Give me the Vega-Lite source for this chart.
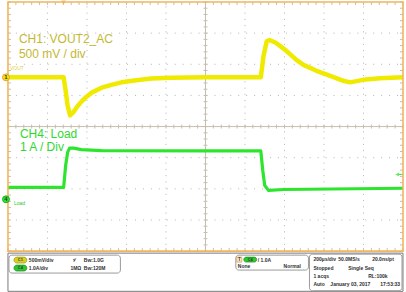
{
 "$schema": "https://vega.github.io/schema/vega-lite/v6.json",
 "width": 406, "height": 292,
 "autosize": {"type": "fit", "contains": "padding"},
 "padding": 0,
 "background": "white",
 "config": {"view": {"stroke": null}, "axis": {"disable": true}, "text": {"font": "Liberation Sans"}},
 "datasets": {
  "vgrid": [{"div":1},{"div":2},{"div":3},{"div":4},{"div":6},{"div":7},{"div":8},{"div":9}],
  "hgrid": [{"v":-3},{"v":-2},{"v":-1},{"v":1},{"v":2},{"v":3}],
  "center": [{"div":5,"v":0}],
  "xs": [{"p":0},{"p":0.2},{"p":0.4},{"p":0.6},{"p":0.8},{"p":1},{"p":1.2},{"p":1.4},{"p":1.6},{"p":1.8},{"p":2},{"p":2.2},{"p":2.4},{"p":2.6},{"p":2.8},{"p":3},{"p":3.2},{"p":3.4},{"p":3.6},{"p":3.8},{"p":4},{"p":4.2},{"p":4.4},{"p":4.6},{"p":4.8},{"p":5},{"p":5.2},{"p":5.4},{"p":5.6},{"p":5.8},{"p":6},{"p":6.2},{"p":6.4},{"p":6.6},{"p":6.8},{"p":7},{"p":7.2},{"p":7.4},{"p":7.6},{"p":7.8},{"p":8},{"p":8.2},{"p":8.4},{"p":8.6},{"p":8.8},{"p":9},{"p":9.2},{"p":9.4},{"p":9.6},{"p":9.8},{"p":10}],
  "ys": [{"p":-4},{"p":-3.8},{"p":-3.6},{"p":-3.4},{"p":-3.2},{"p":-3},{"p":-2.8},{"p":-2.6},{"p":-2.4},{"p":-2.2},{"p":-2},{"p":-1.8},{"p":-1.6},{"p":-1.4},{"p":-1.2},{"p":-1},{"p":-0.8},{"p":-0.6},{"p":-0.4},{"p":-0.2},{"p":0},{"p":0.2},{"p":0.4},{"p":0.6},{"p":0.8},{"p":1},{"p":1.2},{"p":1.4},{"p":1.6},{"p":1.8},{"p":2},{"p":2.2},{"p":2.4},{"p":2.6},{"p":2.8},{"p":3},{"p":3.2},{"p":3.4},{"p":3.6},{"p":3.8},{"p":4}],
  "ch1": [{"div":0,"v":1.58},{"div":1.41,"v":1.58},{"div":1.46,"v":1.15},{"div":1.51,"v":0.67},{"div":1.574,"v":0.36},{"div":1.66,"v":0.47},{"div":1.76,"v":0.65},{"div":1.86,"v":0.8},{"div":1.99,"v":0.96},{"div":2.12,"v":1.09},{"div":2.37,"v":1.25},{"div":2.62,"v":1.34},{"div":2.87,"v":1.42},{"div":3.25,"v":1.49},{"div":3.63,"v":1.54},{"div":4.13,"v":1.57},{"div":5.01,"v":1.58},{"div":6.4,"v":1.58},{"div":6.47,"v":2.27},{"div":6.55,"v":2.74},{"div":6.62,"v":2.78},{"div":6.78,"v":2.69},{"div":7.05,"v":2.43},{"div":7.3,"v":2.14},{"div":7.48,"v":1.98},{"div":7.81,"v":1.79},{"div":8.16,"v":1.63},{"div":8.49,"v":1.47},{"div":8.66,"v":1.42},{"div":8.99,"v":1.5},{"div":9.42,"v":1.55},{"div":10,"v":1.58}],
  "ch4": [{"div":0,"v":-1.95},{"div":1.41,"v":-1.95},{"div":1.46,"v":-1.25},{"div":1.51,"v":-0.83},{"div":1.56,"v":-0.69},{"div":1.66,"v":-0.69},{"div":1.86,"v":-0.74},{"div":2.37,"v":-0.77},{"div":5.01,"v":-0.78},{"div":6.4,"v":-0.78},{"div":6.45,"v":-1.41},{"div":6.5,"v":-1.89},{"div":6.6,"v":-2.05},{"div":6.98,"v":-2.02},{"div":10,"v":-1.98}],
  "labels": [{"t":"CH1: VOUT2_AC","div":0.277,"v":2.688,"ch":"1"},{"t":"500 mV / div","div":0.277,"v":2.208,"ch":"1"},{"t":"CH4: Load","div":0.302,"v":-0.352,"ch":"4"},{"t":"1 A / Div","div":0.302,"v":-0.8,"ch":"4"}],
  "markers": [{"ch":"1","t":"1","div":-0.05,"v":1.58,"name":"VOUT","ldiv":0.05,"lv":1.89},{"ch":"4","t":"4","div":-0.05,"v":-2.336,"name":"Load","ldiv":0.151,"lv":-2.464}],
  "trig": [{"div":1.41,"v":3.985,"lv":-1.536}],
  "boxes": [{"b":"outer","x1":0.0,"x2":10.0,"y1":-4.064,"y2":-5.29},{"b":"inner","x1":0.025,"x2":2.846,"y1":-4.128,"y2":-4.704},{"b":"inner","x1":5.768,"x2":7.607,"y1":-4.128,"y2":-4.608},{"b":"inner","x1":7.632,"x2":9.975,"y1":-4.096,"y2":-5.27}],
  "pills": [{"ch":"1","t":"C1","x1":0.151,"x2":0.479,"xc":0.315,"y1":-4.192,"y2":-4.384,"yc":-4.288},{"ch":"4","t":"C4","x1":0.151,"x2":0.479,"xc":0.315,"y1":-4.448,"y2":-4.64,"yc":-4.544},{"ch":"4","t":"C4","x1":5.97,"x2":6.297,"xc":6.134,"y1":-4.192,"y2":-4.352,"yc":-4.272}],
  "tbox": [{"t":"T","x1":5.793,"x2":5.919,"xc":5.856,"y1":-4.192,"y2":-4.352,"yc":-4.272}],
  "panelText": [{"t":"500mV/div","div":0.529,"v":-4.288},{"t":"⅟","div":1.65,"v":-4.288},{"t":"Bw:1.0G","div":1.92,"v":-4.288},{"t":"1.0A/div","div":0.529,"v":-4.544},{"t":"1MΩ","div":1.58,"v":-4.544},{"t":"Bw:120M","div":1.92,"v":-4.544},{"t":"/ 1.0A","div":6.322,"v":-4.272},{"t":"None","div":5.819,"v":-4.48},{"t":"Normal","div":6.977,"v":-4.48},{"t":"200µs/div","div":7.733,"v":-4.256},{"t":"50.0MS/s","div":8.363,"v":-4.256},{"t":"20.0ns/pt","div":9.219,"v":-4.256},{"t":"Stopped","div":7.733,"v":-4.544},{"t":"Single Seq","div":8.615,"v":-4.544},{"t":"1 acqs","div":7.733,"v":-4.8},{"t":"RL:100k","div":9.118,"v":-4.8},{"t":"Auto","div":7.733,"v":-5.056},{"t":"January 03, 2017","div":8.161,"v":-5.056},{"t":"17:53:33","div":9.421,"v":-5.056}]
 },
 "layer": [
  {"data": {"name": "vgrid"}, "mark": {"type": "rule", "color": "#b4b4b4", "strokeWidth": 1, "strokeDash": [1, 5.25]},
   "encoding": {"x": {"field": "div", "type": "quantitative", "scale": {"domain": [-0.151, 10.076], "nice": false, "zero": false}},
                "y": {"datum": -4, "type": "quantitative", "scale": {"domain": [-5.312, 4.032], "nice": false, "zero": false}}, "y2": {"datum": 4}}},
  {"data": {"name": "hgrid"}, "mark": {"type": "rule", "color": "#b4b4b4", "strokeWidth": 1, "strokeDash": [1, 6.94]},
   "encoding": {"y": {"field": "v", "type": "quantitative"}, "x": {"datum": 0, "type": "quantitative"}, "x2": {"datum": 10}}},
  {"data": {"name": "center"}, "mark": {"type": "rule", "color": "#c6bdae", "strokeWidth": 1},
   "encoding": {"x": {"field": "div", "type": "quantitative"}, "y": {"datum": -4, "type": "quantitative"}, "y2": {"datum": 4}}},
  {"data": {"name": "center"}, "mark": {"type": "rule", "color": "#c6bdae", "strokeWidth": 1},
   "encoding": {"y": {"field": "v", "type": "quantitative"}, "x": {"datum": 0, "type": "quantitative"}, "x2": {"datum": 10}}},
  {"data": {"name": "xs"}, "mark": {"type": "rule", "color": "#c6bdae", "strokeWidth": 1},
   "encoding": {"x": {"field": "p", "type": "quantitative"}, "y": {"datum": -0.064, "type": "quantitative"}, "y2": {"datum": 0.064}}},
  {"data": {"name": "ys"}, "mark": {"type": "rule", "color": "#c6bdae", "strokeWidth": 1},
   "encoding": {"y": {"field": "p", "type": "quantitative"}, "x": {"datum": 4.95, "type": "quantitative"}, "x2": {"datum": 5.05}}},
  {"data": {"name": "xs"}, "mark": {"type": "rule", "color": "#c6bdae", "strokeWidth": 1},
   "encoding": {"x": {"field": "p", "type": "quantitative"}, "y": {"datum": 3.904, "type": "quantitative"}, "y2": {"datum": 4}}},
  {"data": {"name": "xs"}, "mark": {"type": "rule", "color": "#c6bdae", "strokeWidth": 1},
   "encoding": {"x": {"field": "p", "type": "quantitative"}, "y": {"datum": -4, "type": "quantitative"}, "y2": {"datum": -3.904}}},
  {"data": {"name": "ys"}, "mark": {"type": "rule", "color": "#c6bdae", "strokeWidth": 1},
   "encoding": {"y": {"field": "p", "type": "quantitative"}, "x": {"datum": 0, "type": "quantitative"}, "x2": {"datum": 0.076}}},
  {"data": {"name": "ys"}, "mark": {"type": "rule", "color": "#c6bdae", "strokeWidth": 1},
   "encoding": {"y": {"field": "p", "type": "quantitative"}, "x": {"datum": 9.924, "type": "quantitative"}, "x2": {"datum": 10}}},
  {"data": {"name": "ch1"}, "mark": {"type": "line", "color": "#f0ea00", "strokeWidth": 4.5, "strokeJoin": "round"},
   "encoding": {"x": {"field": "div", "type": "quantitative"}, "y": {"field": "v", "type": "quantitative"}}},
  {"data": {"name": "ch4"}, "mark": {"type": "line", "color": "#2ee52e", "strokeWidth": 3.2, "strokeJoin": "round"},
   "encoding": {"x": {"field": "div", "type": "quantitative"}, "y": {"field": "v", "type": "quantitative"}}},
  {"data": {"name": "labels"}, "transform": [{"filter": "datum.ch == '1'"}], "mark": {"type": "text", "align": "left", "baseline": "alphabetic", "fontSize": 12, "color": "#c4b832"},
   "encoding": {"x": {"field": "div", "type": "quantitative"}, "y": {"field": "v", "type": "quantitative"}, "text": {"field": "t"}}},
  {"data": {"name": "labels"}, "transform": [{"filter": "datum.ch == '4'"}], "mark": {"type": "text", "align": "left", "baseline": "alphabetic", "fontSize": 12, "color": "#30d830"},
   "encoding": {"x": {"field": "div", "type": "quantitative"}, "y": {"field": "v", "type": "quantitative"}, "text": {"field": "t"}}},
  {"data": {"name": "trig"}, "mark": {"type": "point", "shape": "triangle-down", "filled": true, "size": 22, "color": "#f0a030"},
   "encoding": {"x": {"field": "div", "type": "quantitative"}, "y": {"field": "v", "type": "quantitative"}}},
  {"data": {"name": "trig"}, "mark": {"type": "point", "shape": "triangle-left", "filled": true, "size": 16, "color": "#2ee52e"},
   "encoding": {"x": {"datum": 9.85, "type": "quantitative"}, "y": {"field": "lv", "type": "quantitative"}}},
  {"data": {"name": "trig"}, "mark": {"type": "rule", "color": "#2ee52e", "strokeWidth": 1},
   "encoding": {"x": {"datum": 9.88, "type": "quantitative"}, "x2": {"datum": 10}, "y": {"field": "lv", "type": "quantitative"}}},
  {"data": {"name": "center"}, "mark": {"type": "rect", "fillOpacity": 0, "stroke": "#f2b55e", "strokeWidth": 1.6},
   "encoding": {"x": {"datum": 0, "type": "quantitative"}, "x2": {"datum": 10}, "y": {"datum": -4, "type": "quantitative"}, "y2": {"datum": 4}}},
  {"data": {"name": "markers"}, "transform": [{"filter": "datum.ch == '1'"}], "mark": {"type": "point", "filled": true, "size": 48, "fill": "#f2e600", "stroke": "#f0a030", "strokeWidth": 1, "opacity": 1},
   "encoding": {"x": {"field": "div", "type": "quantitative"}, "y": {"field": "v", "type": "quantitative"}}},
  {"data": {"name": "markers"}, "transform": [{"filter": "datum.ch == '4'"}], "mark": {"type": "point", "filled": true, "size": 48, "fill": "#2ee52e", "stroke": "#20b020", "strokeWidth": 1, "opacity": 1},
   "encoding": {"x": {"field": "div", "type": "quantitative"}, "y": {"field": "v", "type": "quantitative"}}},
  {"data": {"name": "markers"}, "mark": {"type": "text", "fontSize": 6, "fontWeight": "bold", "color": "#333333", "align": "center", "baseline": "middle"},
   "encoding": {"x": {"field": "div", "type": "quantitative"}, "y": {"field": "v", "type": "quantitative"}, "text": {"field": "t"}}},
  {"data": {"name": "markers"}, "transform": [{"filter": "datum.ch == '1'"}], "mark": {"type": "text", "fontSize": 5, "color": "#e0d040", "align": "left", "baseline": "middle"},
   "encoding": {"x": {"field": "ldiv", "type": "quantitative"}, "y": {"field": "lv", "type": "quantitative"}, "text": {"field": "name"}}},
  {"data": {"name": "markers"}, "transform": [{"filter": "datum.ch == '4'"}], "mark": {"type": "text", "fontSize": 5, "color": "#30c830", "align": "left", "baseline": "middle"},
   "encoding": {"x": {"field": "ldiv", "type": "quantitative"}, "y": {"field": "lv", "type": "quantitative"}, "text": {"field": "name"}}},
  {"data": {"name": "boxes"}, "transform": [{"filter": "datum.b == 'outer'"}], "mark": {"type": "rect", "fill": "white", "stroke": "#7a7a7a", "strokeWidth": 1},
   "encoding": {"x": {"field": "x1", "type": "quantitative"}, "x2": {"field": "x2"}, "y": {"field": "y1", "type": "quantitative"}, "y2": {"field": "y2"}}},
  {"data": {"name": "boxes"}, "transform": [{"filter": "datum.b == 'inner'"}], "mark": {"type": "rect", "fill": "white", "stroke": "#9a9a9a", "strokeWidth": 1, "cornerRadius": 3},
   "encoding": {"x": {"field": "x1", "type": "quantitative"}, "x2": {"field": "x2"}, "y": {"field": "y1", "type": "quantitative"}, "y2": {"field": "y2"}}},
  {"data": {"name": "pills"}, "transform": [{"filter": "datum.ch == '1'"}], "mark": {"type": "rect", "fill": "#d6d020", "stroke": "#8a8a10", "strokeWidth": 0.6, "cornerRadius": 3},
   "encoding": {"x": {"field": "x1", "type": "quantitative"}, "x2": {"field": "x2"}, "y": {"field": "y1", "type": "quantitative"}, "y2": {"field": "y2"}}},
  {"data": {"name": "pills"}, "transform": [{"filter": "datum.ch == '4'"}], "mark": {"type": "rect", "fill": "#2cc82c", "stroke": "#127a12", "strokeWidth": 0.6, "cornerRadius": 3},
   "encoding": {"x": {"field": "x1", "type": "quantitative"}, "x2": {"field": "x2"}, "y": {"field": "y1", "type": "quantitative"}, "y2": {"field": "y2"}}},
  {"data": {"name": "pills"}, "mark": {"type": "text", "fontSize": 4, "fontWeight": "bold", "color": "#334", "align": "center", "baseline": "middle"},
   "encoding": {"x": {"field": "xc", "type": "quantitative"}, "y": {"field": "yc", "type": "quantitative"}, "text": {"field": "t"}}},
  {"data": {"name": "tbox"}, "mark": {"type": "rect", "fill": "#f6efe0", "stroke": "#e0a040", "strokeWidth": 0.8},
   "encoding": {"x": {"field": "x1", "type": "quantitative"}, "x2": {"field": "x2"}, "y": {"field": "y1", "type": "quantitative"}, "y2": {"field": "y2"}}},
  {"data": {"name": "tbox"}, "mark": {"type": "text", "fontSize": 4.5, "fontWeight": "bold", "color": "#333333", "align": "center", "baseline": "middle"},
   "encoding": {"x": {"field": "xc", "type": "quantitative"}, "y": {"field": "yc", "type": "quantitative"}, "text": {"field": "t"}}},
  {"data": {"name": "panelText"}, "mark": {"type": "text", "fontSize": 5, "fontWeight": "bold", "color": "#303030", "align": "left", "baseline": "middle"},
   "encoding": {"x": {"field": "div", "type": "quantitative"}, "y": {"field": "v", "type": "quantitative"}, "text": {"field": "t"}}}
 ]
}
